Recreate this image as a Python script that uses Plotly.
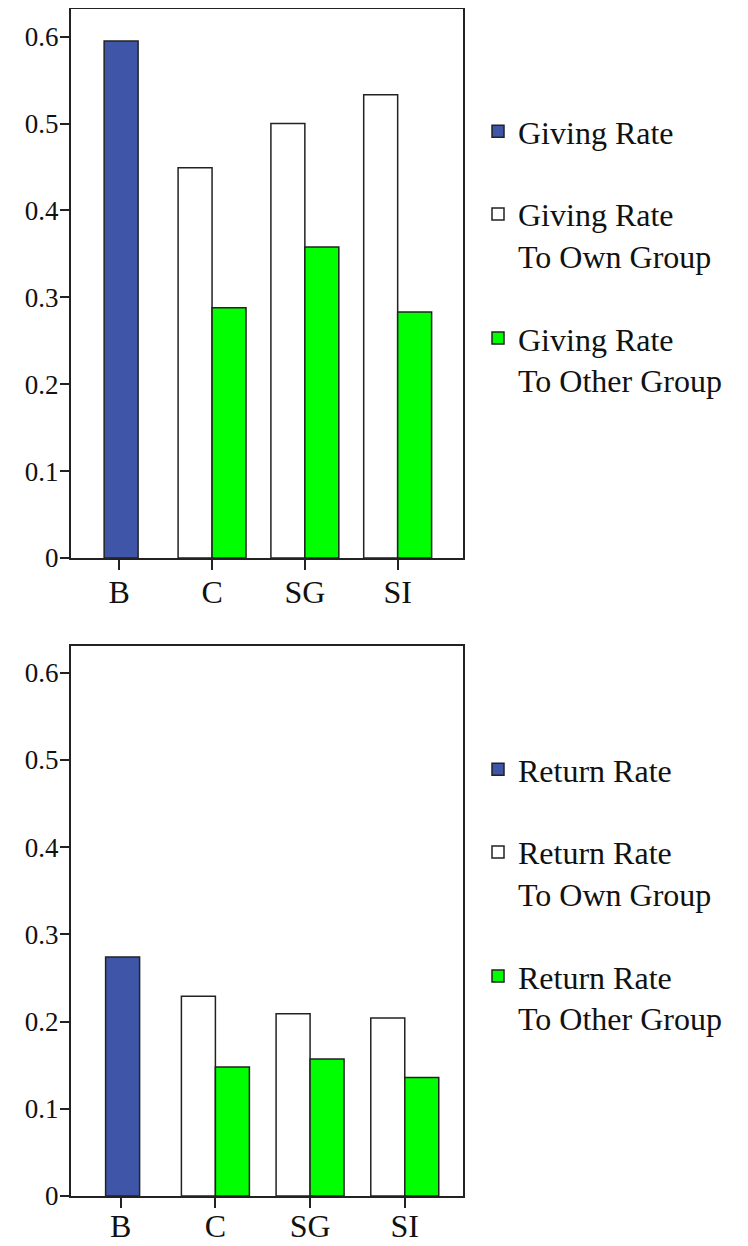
import plotly.graph_objects as go

categories = ["B", "C", "SG", "SI"]
groups = ["C", "SG", "SI"]

giving_rate = [0.595]
giving_own = [0.449, 0.500, 0.533]
giving_other = [0.288, 0.358, 0.283]

return_rate = [0.274]
return_own = [0.229, 0.209, 0.204]
return_other = [0.148, 0.157, 0.136]

yticks = [0, 0.1, 0.2, 0.3, 0.4, 0.5, 0.6]
yticklabels = ["0", "0.1", "0.2", "0.3", "0.4", "0.5", "0.6"]

BLUE = "#3F56A8"
GREEN = "#00FF00"
EDGE = "#222222"
FONT = "Liberation Serif"

W_TOP = 0.366
W_BOT = 0.359

# page body has an 8px margin; work in page pixels minus that offset
OFF = 8
Wd = 748.0 - OFF
H = 1246.0 - OFF

fig = go.Figure()

def add_panel(fig, xa, ya, legend, w, vals_main, vals_own, vals_other, names):
    fig.add_trace(go.Bar(
        x=["B"], y=vals_main, name=names[0], width=w, offset=-w / 2 + 0.02,
        marker=dict(color=BLUE, line=dict(color=EDGE, width=1.5)),
        xaxis=xa, yaxis=ya, legend=legend, legendgroup=legend + "a"))
    fig.add_trace(go.Bar(
        x=groups, y=vals_own, name=names[1], width=w, offset=-w,
        marker=dict(color="white", line=dict(color=EDGE, width=1.5)),
        xaxis=xa, yaxis=ya, legend=legend, legendgroup=legend + "b"))
    fig.add_trace(go.Bar(
        x=groups, y=vals_other, name=names[2], width=w, offset=0,
        marker=dict(color=GREEN, line=dict(color=EDGE, width=1.5)),
        xaxis=xa, yaxis=ya, legend=legend, legendgroup=legend + "c"))

add_panel(fig, "x", "y", "legend", W_TOP, giving_rate, giving_own, giving_other,
          ["Giving Rate", "Giving Rate<br>To Own Group", "Giving Rate<br>To Other Group"])
add_panel(fig, "x2", "y2", "legend2", W_BOT, return_rate, return_own, return_other,
          ["Return Rate", "Return Rate<br>To Own Group", "Return Rate<br>To Other Group"])

xaxis_common = dict(
    type="category", categoryorder="array", categoryarray=categories,
    showline=True, linecolor=EDGE, linewidth=2, mirror=True,
    ticks="outside", ticklen=10, tickwidth=2, tickcolor=EDGE,
    tickfont=dict(family=FONT, size=32, color="#111"),
    showgrid=False, zeroline=False, automargin=False, fixedrange=True,
    domain=[(71 - OFF) / Wd, (463 - OFF) / Wd],
)
yaxis_common = dict(
    tickmode="array", tickvals=yticks, ticktext=yticklabels,
    showline=True, linecolor=EDGE, linewidth=2, mirror=True,
    ticks="outside", ticklen=9, tickwidth=2, tickcolor=EDGE,
    tickfont=dict(family=FONT, size=27, color="#111"),
    ticklabelstandoff=-4,
    showgrid=False, zeroline=False, automargin=False, fixedrange=True,
)

legend_common = dict(
    font=dict(family=FONT, size=32, color="#111"),
    bgcolor="rgba(0,0,0,0)", borderwidth=0,
    traceorder="grouped", tracegroupgap=38, valign="top",
    xanchor="left", yanchor="top", itemclick=False, itemdoubleclick=False,
)

fig.update_layout(
    width=int(Wd), height=int(H),
    margin=dict(l=0, r=0, t=0, b=0),
    paper_bgcolor="white", plot_bgcolor="white",
    barmode="overlay",
    xaxis=dict(**xaxis_common, range=[-0.52, 3.704], anchor="y",
               ticklabelstandoff=-5),
    yaxis=dict(**yaxis_common, range=[0, 0.6318],
               domain=[1 - (558 - OFF) / H, 1 - (9 - OFF) / H], anchor="x"),
    xaxis2=dict(**xaxis_common, range=[-0.525, 3.615], anchor="y2",
                ticklabelstandoff=-9),
    yaxis2=dict(**yaxis_common, range=[0, 0.6307],
                domain=[1 - (1196 - OFF) / H, 1 - (646 - OFF) / H], anchor="x2"),
    legend=dict(**legend_common, x=(478 - OFF) / Wd, y=1 - (104 - OFF) / H),
    legend2=dict(**legend_common, x=(478 - OFF) / Wd, y=1 - (742 - OFF) / H),
    showlegend=True,
)

fig.write_html("out.html")
